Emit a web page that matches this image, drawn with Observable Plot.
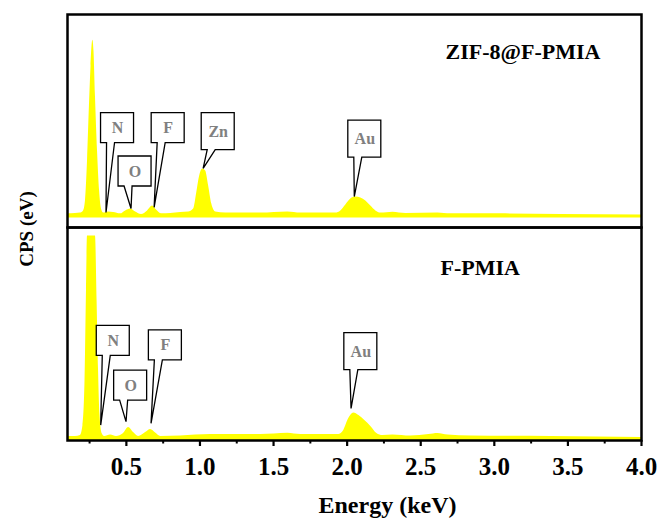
<!DOCTYPE html>
<html><head><meta charset="utf-8">
<script src="https://cdn.jsdelivr.net/npm/d3@7"></script>
<script src="https://cdn.jsdelivr.net/npm/@observablehq/plot@0.6"></script>
<style>body{margin:0;background:#fff}</style>
</head><body><div id="chart"></div>
<script>
// Panels (samples)
const panels = ["ZIF-8@F-PMIA", "F-PMIA"];

// ZIF-8@F-PMIA spectrum (energy keV, counts above baseline, arbitrary units)
const zifEnergy = [0.100,0.154,0.188,0.209,0.222,0.236,0.249,0.260,0.272,0.280,0.290,0.304,0.318,0.331,0.345,0.379,0.413,0.461,0.495,0.529,0.563,0.603,0.644,0.678,0.705,0.739,0.801,0.869,0.923,0.957,0.978,0.998,1.018,1.039,1.059,1.080,1.107,1.175,1.413,1.597,1.685,1.923,1.957,1.991,2.025,2.059,2.093,2.127,2.161,2.195,2.229,2.311,2.399,2.617,2.705,3.046,3.454,4.000];
const zifCounts = [1.9,2.1,2.3,3.3,8.0,26.7,52.5,71.2,83.4,78.2,57.1,31.4,12.6,4.2,2.3,2.8,2.6,1.9,3.3,4.2,2.8,1.6,3.3,5.6,3.7,1.9,2.1,2.6,2.8,4.2,11.7,19.7,23.0,22.0,15.0,6.6,2.8,2.3,2.3,2.8,2.3,2.3,3.3,6.1,8.9,9.8,9.4,8.0,5.6,3.3,2.3,2.7,2.1,2.3,1.9,1.9,1.6,1.4];

// F-PMIA spectrum
const pmiaEnergy = [0.100,0.154,0.188,0.205,0.219,0.229,0.236,0.290,0.301,0.311,0.321,0.335,0.352,0.393,0.433,0.481,0.515,0.549,0.583,0.631,0.665,0.699,0.733,0.869,1.073,1.413,1.597,1.685,1.943,1.977,2.011,2.045,2.080,2.120,2.161,2.202,2.243,2.311,2.433,2.556,2.617,2.685,2.841,3.386,4.000];
const pmiaCounts = [1.9,1.9,2.3,7.0,28.1,70.3,96.0,96.0,65.6,32.8,11.7,3.3,1.9,2.6,1.9,3.3,6.1,3.7,1.9,3.7,5.2,3.5,1.9,2.1,2.8,2.8,3.4,2.8,2.8,4.7,10.3,12.9,11.7,9.4,6.6,3.3,2.3,2.6,2.1,2.8,3.3,2.6,2.1,1.9,1.4];

// Element callouts
const zifLabels = ["N", "O", "F", "Zn", "Au"];
const zifTipEnergy = [0.365, 0.535, 0.692, 1.025, 2.052];
const zifTipCounts = [2.3, 4.2, 4.7, 23.0, 9.8];
const zifBoxEnergy = [0.440, 0.559, 0.784, 1.124, 2.120];
const zifBoxCounts = [42.2, 21.8, 42.2, 40.5, 37.0];

const pmiaLabels = ["N", "O", "F", "Au"];
const pmiaTipEnergy = [0.329, 0.501, 0.671, 2.030];
const pmiaTipCounts = [7.0, 8.6, 7.8, 14.8];
const pmiaBoxEnergy = [0.411, 0.529, 0.765, 2.093];
const pmiaBoxCounts = [46.8, 25.8, 44.7, 41.7];

// Axis ticks
const majorTicks = [0.5, 1.0, 1.5, 2.0, 2.5, 3.0, 3.5, 4.0];
const minorTicks = [0.25, 0.75, 1.25, 1.75, 2.25, 2.75, 3.25, 3.75];

// Layout: baseline offset of each stacked spectrum
const panelBase = {"ZIF-8@F-PMIA": 4.5, "F-PMIA": 0};

const spectrum = [
  ...zifEnergy.map((e, i) => ({panel: panels[0], energy: e, base: panelBase[panels[0]], level: panelBase[panels[0]] + zifCounts[i]})),
  ...pmiaEnergy.map((e, i) => ({panel: panels[1], energy: e, base: panelBase[panels[1]], level: panelBase[panels[1]] + pmiaCounts[i]}))
];
const callouts = [
  ...zifLabels.map((l, i) => ({panel: panels[0], label: l, tipE: zifTipEnergy[i], tipY: panelBase[panels[0]] + zifTipCounts[i], boxE: zifBoxEnergy[i], boxY: panelBase[panels[0]] + zifBoxCounts[i]})),
  ...pmiaLabels.map((l, i) => ({panel: panels[1], label: l, tipE: pmiaTipEnergy[i], tipY: panelBase[panels[1]] + pmiaTipCounts[i], boxE: pmiaBoxEnergy[i], boxY: panelBase[panels[1]] + pmiaBoxCounts[i]}))
];

const serif = "'Liberation Serif', 'Times New Roman', Times, serif";

const chart = Plot.plot({
  width: 662,
  height: 521,
  marginTop: 13,
  marginBottom: 81,
  marginLeft: 67,
  marginRight: 21,
  style: {fontFamily: serif, background: "white", color: "black"},
  x: {domain: [0.1, 4.0]},
  y: {domain: [0, 100], axis: null},
  fy: {domain: panels, axis: null, padding: 0},
  marks: [
    Plot.areaY(spectrum, {x: "energy", y1: "base", y2: "level", fy: "panel", fill: "#ffff00", curve: "monotone-x"}),
    Plot.link(callouts, {
      x1: "tipE", y1: "tipY", x2: "boxE", y2: "boxY", fy: "panel",
      render(index, scales, values) {
        const g = d3.create("svg:g");
        for (const i of index) {
          const tx = values.x1[i], ty = values.y1[i], cx = values.x2[i], cy = values.y2[i];
          const w = 33, h = callouts[i].label.length > 1 ? 37 : 30;
          const l = cx - w / 2, r = cx + w / 2, t = cy - h / 2, b = cy + h / 2;
          g.append("path")
            .attr("d", `M${l},${t}H${r}V${b}H${l + 14}L${tx},${ty}L${l + 6},${b}H${l}Z`)
            .attr("fill", "white")
            .attr("stroke", "black")
            .attr("stroke-width", 1.3);
        }
        return g.node();
      }
    }),
    Plot.text(callouts, {x: "boxE", y: "boxY", fy: "panel", text: "label", fill: "#808080", fontSize: 16, fontWeight: "bold", lineAnchor: "middle"}),
    Plot.frame({stroke: "black", strokeWidth: 2.5}),
    Plot.axisX(majorTicks, {anchor: "bottom", facetAnchor: "bottom", tickSize: 6, tickPadding: 11, strokeWidth: 2.2, fontSize: 25, fontWeight: "bold", tickFormat: d => d.toFixed(1), label: null}),
    Plot.axisX(minorTicks, {anchor: "bottom", facetAnchor: "bottom", tickSize: 3.5, strokeWidth: 2, tickFormat: () => "", label: null}),
    Plot.text([panels[0]], {fy: [panels[0]], frameAnchor: "top-left", dx: 378, dy: 37, textAnchor: "start", lineAnchor: "middle", fontSize: 22, fontWeight: "bold"}),
    Plot.text([panels[1]], {fy: [panels[1]], frameAnchor: "top-left", dx: 373, dy: 40, textAnchor: "start", lineAnchor: "middle", fontSize: 22, fontWeight: "bold"}),
    Plot.text(["Energy (keV)"], {fy: [panels[1]], frameAnchor: "bottom", dx: 33, dy: 65, lineAnchor: "middle", fontSize: 24, fontWeight: "bold"}),
    Plot.text(["CPS (eV)"], {fy: [panels[0]], frameAnchor: "bottom-left", dx: -41, dy: 1.5, rotate: -90, lineAnchor: "middle", textAnchor: "middle", fontSize: 19, fontWeight: "bold"})
  ]
});
document.getElementById("chart").appendChild(chart);
</script>
</body></html>
